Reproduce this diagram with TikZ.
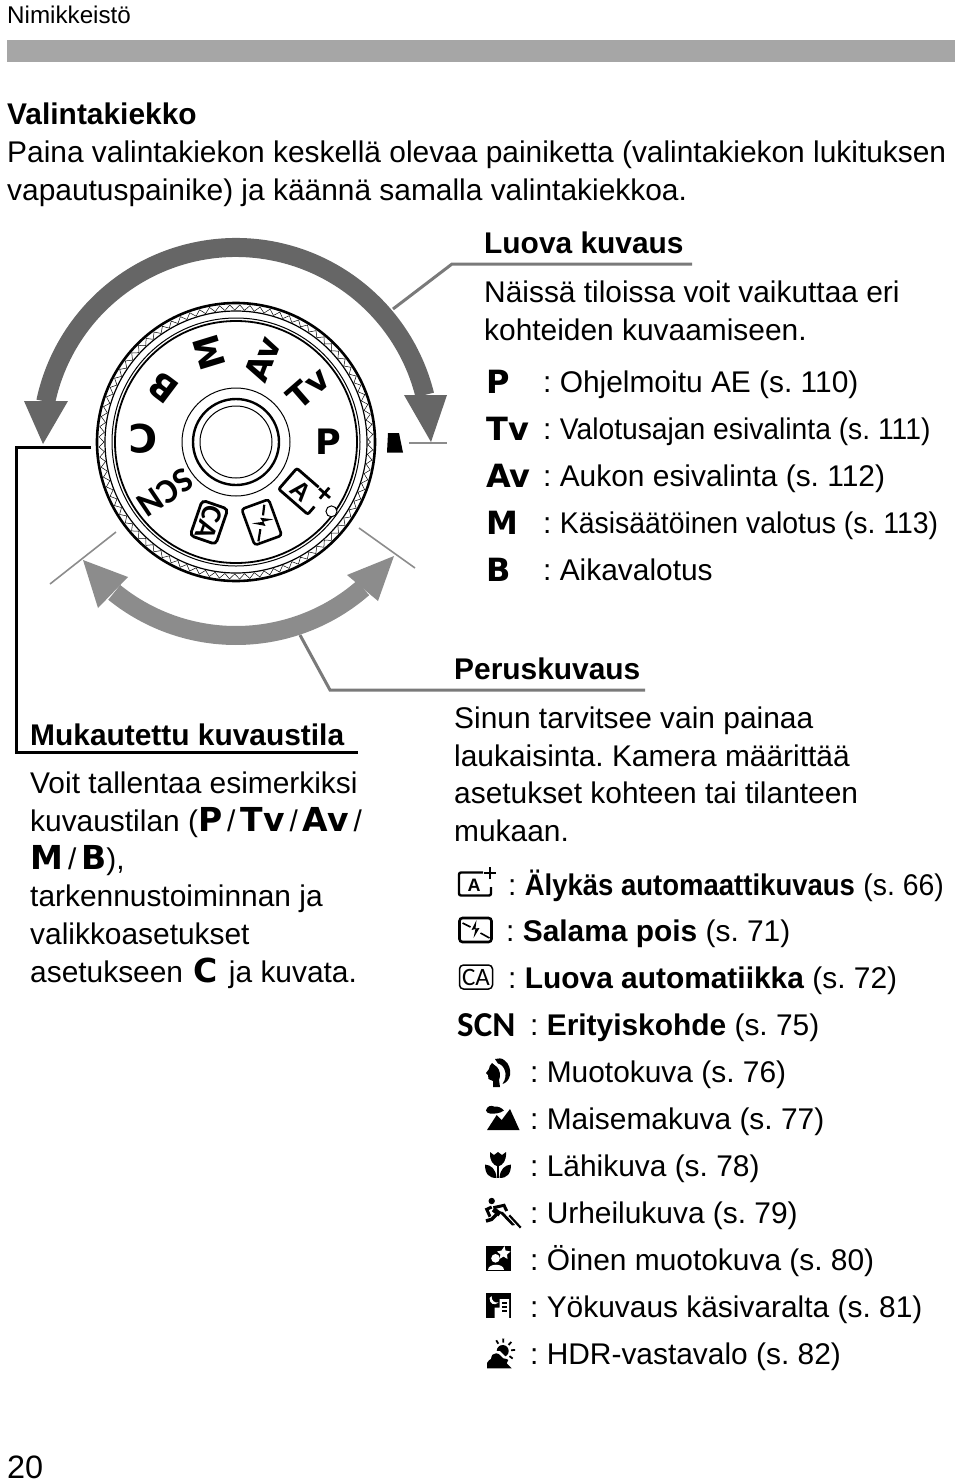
\documentclass[tikz,border=0pt]{standalone}
\usepackage{fontspec}
\setmainfont{Liberation Sans}
\newfontfamily\modefont{DejaVu Sans}
\newfontfamily\scnfont{Carlito}
\usetikzlibrary{decorations.pathmorphing}

\definecolor{bardark}{HTML}{666666}
\definecolor{barlight}{HTML}{8C8C8C}
\definecolor{leader}{HTML}{7A7A7A}
\definecolor{headbar}{HTML}{A6A6A6}

\newcommand{\msym}[1]{{\fontsize{33}{36}\selectfont\modefont\bfseries #1}}
\frenchspacing

\tikzset{
  body/.style={font=\fontsize{29.9}{36}\selectfont, anchor=base west, inner sep=0pt},
  head/.style={font=\fontsize{29.9}{36}\selectfont\bfseries, anchor=base west, inner sep=0pt},
  modesym/.style={font=\fontsize{32}{36}\selectfont\modefont\bfseries, anchor=base west, inner sep=0pt},
  dialsym/.style={font=\fontsize{35}{36}\selectfont\modefont\bfseries, inner sep=0pt},
  leadline/.style={leader, line width=3pt},
  tickline/.style={barlight, line width=1.6pt},
  iconline/.style={line width=2.4pt},
  caline/.style={line width=1.5pt},
  flashline/.style={line width=1.6pt},
  catext/.style={font=\fontsize{25}{25}\selectfont\scnfont},
  atext/.style={font=\fontsize{18}{18}\selectfont\bfseries},
  % scene icons, drawn around their middle or from their top left corner
  autoplus/.pic={
    \draw[iconline, rounded corners=2pt] (8,11.5) -- (-16,11.5) -- (-16,-11.5) -- (16,-11.5) -- (16,-3);
    \draw[iconline] (9,11) -- (21,11) (15,5) -- (15,17);
    \node[transform shape, inner sep=0pt, atext] (-a) at (-1,-1) {A};
  },
  flashoff/.pic={
    \draw[line width=2.6pt, rounded corners=3pt] (-16,-12) rectangle (16,12);
    \draw[flashline] (-13,7) -- (-5,3) (5,-3) -- (14,-8);
    \fill (1,10) -- (-4,0) -- (0,1) -- (-2,-8) -- (4,2) -- (0,1.5) -- cycle;
  },
  creative/.pic={
    \draw[caline, rounded corners=4pt] (-16.5,-12) rectangle (16.5,12);
    \node[transform shape, inner sep=0pt, catext] (-ca) at (0,0) {CA};
  },
  portrait/.pic={
    \fill (10,-1) .. controls (13,0) and (17,0) .. (19,-2) .. controls (24,-5) and (26,-12) .. (25,-17)
      .. controls (24,-22) and (21,-25) .. (17.5,-26) .. controls (21,-21) and (21,-16) .. (20,-13)
      .. controls (19,-9) and (16,-6) .. (13,-5.5) -- cycle;
    \fill (7,-5) .. controls (5,-7) and (4,-9) .. (4,-11) -- (1,-15) -- (3,-17) -- (3.5,-21) -- (8,-23) -- (8,-29)
      -- (15,-29) -- (14,-22) .. controls (16,-18) and (15,-12) .. (12,-9) -- cycle;
  },
  landscape/.pic={
    \fill (1,-25) -- (10.7,-10) -- (15.7,-15) -- (24,-4) -- (33.5,-25) -- cycle;
    \fill (0,-5.5) .. controls (1,-1) and (5,0) .. (8,-1.5) .. controls (12,-1) and (16,-3) .. (18,-5.5)
      .. controls (14,-8.5) and (8,-9) .. (4,-8.5) .. controls (2,-8.5) and (0.5,-7) .. (0,-5.5) -- cycle;
  },
  macroflower/.pic={
    \fill (5,0) -- (9,-3) -- (13,0) -- (17,-3) -- (21,0) .. controls (21.5,-9) and (18,-13) .. (13,-14.5)
      .. controls (8,-13) and (4.5,-9) .. (5,0) -- cycle;
    \fill (0,-12.5) .. controls (6,-13) and (11,-17) .. (11.5,-26) .. controls (4,-26) and (0,-22) .. (0,-12.5) -- cycle;
    \fill (26,-12.5) .. controls (20,-13) and (15,-17) .. (14.5,-26) .. controls (22,-26) and (26,-22) .. (26,-12.5) -- cycle;
    \draw[line width=1.4pt] (13,-14) -- (13,-26);
  },
  sports/.pic={
    \fill (5.7,-3) circle (3.2);
    \draw[line width=5pt] (7.3,-11.3) -- (14,-16.3);
    \draw[line width=3pt] (7.3,-9.7) -- (18,-7.3) -- (20.7,-13);
    \draw[line width=3pt] (5.7,-9) -- (0.7,-11.3) -- (4,-18.7);
    \draw[line width=3.5pt] (10.7,-16.3) -- (5.7,-21.3) -- (0,-23);
    \fill (12,-13) -- (17,-14) -- (29,-27) -- (26,-27.5) -- cycle;
    \draw[line width=2.2pt] (23.3,-17.3) -- (34.7,-29.7);
  },
  nightportrait/.pic={
    \fill (0,0) rectangle (25,-25);
    \fill[white] (10,-12.3) circle (4.3);
    \fill[white] (2,-24) .. controls (2,-17) and (18,-17) .. (18,-24) -- cycle;
    \fill[white] (19,0) -- (20,-4.5) -- (25,-5.5) -- (21.5,-8.5) -- (22,-13) -- (18,-10.5) -- (14,-13) -- (15,-8.5) -- (11.5,-5.5) -- (16,-4.5) -- cycle;
  },
  nightsnap/.pic={
    \fill (0,0) rectangle (25,-25);
    \fill[white] (4,-5) .. controls (4,-11) and (9,-13) .. (13,-9.5) .. controls (9,-10) and (6,-8) .. (6,-3) -- cycle;
    \fill[white] (9,-25) -- (9,-14.5) -- (14,-14.5) -- (14,-6) -- (23.5,-6) -- (23.5,-25) -- cycle;
    \draw[line width=1.3pt] (16.5,-10) -- (21.5,-10) (16.5,-14) -- (21.5,-14) (16.5,-18) -- (21.5,-18);
  },
  hdrlight/.pic={
    \fill (16.7,-12) circle (6);
    \foreach \a in {121,87,46,5,-37}
      \draw[line width=1.8pt] (16.7,-12) ++(\a:8.5) -- ++(\a:4);
    \fill[white] (2,-21) -- (9,-12) -- (14,-12) -- (20,-18) -- (24,-21) -- (22,-29) -- cycle;
    \fill (1,-29.3) -- (1,-24) .. controls (2,-21) and (4,-21) .. (5,-20) .. controls (5.5,-16) and (7,-14.3) .. (10,-14.3)
      .. controls (14,-14.3) and (15,-18) .. (17.3,-19.3) .. controls (20,-20) and (22,-20) .. (22.3,-21) -- (20.7,-24.3) -- (25.7,-29.3) -- cycle;
  }
}

\begin{document}
\begin{tikzpicture}[x=1pt,y=1pt]
\useasboundingbox (0,0) rectangle (960,-1480);

% Page head
\node[anchor=base west, inner sep=0pt, font=\fontsize{24.2}{26}\selectfont] (pagetitle) at (7,-24) {Nimikkeistö};
\fill[headbar] (7,-40) rectangle (955,-62);

\node[head] (dialtitle) at (7,-124) {Valintakiekko};
\node[body] (dialtext-1) at (7,-162) {Paina valintakiekon keskellä olevaa painiketta (valintakiekon lukituksen};
\node[body] (dialtext-2) at (7,-200) {vapautuspainike) ja käännä samalla valintakiekkoa.};

% Leaders
\coordinate (luova-a) at (393,-309);
\coordinate (luova-b) at (452,-264);
\coordinate (luova-c) at (692,-264);
\draw[leadline] (luova-a) -- (luova-b) -- (luova-c);
\coordinate (perus-a) at (300,-635);
\coordinate (perus-b) at (330,-690);
\coordinate (perus-c) at (645,-690);
\draw[leadline] (perus-a) -- (perus-b) -- (perus-c);
\coordinate (custom-a) at (91,-447);
\coordinate (custom-b) at (16,-447);
\coordinate (custom-c) at (16,-752);
\coordinate (custom-d) at (358,-752);
\draw[line width=3pt] (custom-a) -- (custom-b) -- (custom-c) -- (custom-d);

% Thin end marks
\coordinate (tick-a) at (409,-443);
\coordinate (tick-b) at (447,-443);
\draw[tickline] (tick-a) -- (tick-b);
\coordinate (tick-c) at (116,-532);
\coordinate (tick-d) at (50,-584);
\draw[tickline] (tick-c) -- (tick-d);
\coordinate (tick-e) at (359,-528);
\coordinate (tick-f) at (415,-568);
\draw[tickline] (tick-e) -- (tick-f);

% Big arrows
\begin{scope}[shift={(236,-442)}]
\fill[bardark] (14:204) arc[start angle=14,end angle=168,radius=204] -- (168:185) arc[start angle=168,end angle=14,radius=185] -- cycle;
\fill[barlight] (-49:203) arc[start angle=-49,end angle=-129,radius=203] -- (-129:184) arc[start angle=-129,end angle=-49,radius=184] -- cycle;
\end{scope}
\fill[bardark] (404,-395) -- (447,-395) -- (431,-442) -- cycle;
\fill[bardark] (24,-401) -- (68,-401) -- (43,-444) -- cycle;
\fill[barlight] (347,-575) -- (378,-601) -- (394,-556) -- cycle;
\fill[barlight] (128,-577) -- (98,-608) -- (83,-560) -- cycle;

% Dial
\fill (388,-433) -- (399,-433) -- (403,-452.5) -- (387,-452.5) -- cycle;
\begin{scope}[shift={(236,-442)}, iconline/.style={line width=2.8pt}, caline/.style={line width=2.8pt},
    flashline/.style={line width=2.2pt},
    catext/.style={font=\fontsize{26}{26}\selectfont\scnfont\bfseries},
    atext/.style={font=\fontsize{21}{21}\selectfont\bfseries}]
\fill[white] (0,0) circle (139);
\draw[line width=2.6pt] (0,0) circle (139);
\draw[line width=0.5pt, decorate, decoration={zigzag, segment length=10pt, amplitude=2.6pt}] (0,0) circle (134.5);
\draw[line width=1.2pt] (0,0) circle (131);
\draw[line width=1pt] (0,0) circle (124);
\draw[line width=1.8pt] (0,0) circle (121);
\draw[line width=1pt] (0,0) circle (54);
\draw[line width=2.4pt] (0,0) circle (43);
\draw[line width=1pt] (0,0) circle (36);
\draw[fill=white, line width=1pt] (-36:118) circle (5.5);

\foreach \a/\r/\rot/\txt in {0/92/0/P, 107/93/107/M, 143/91/143/B}
  \node[dialsym, rotate=\rot] (dial-\txt) at (\a:\r) {\txt};
\foreach \a/\r/\rot/\txt in {37/90/41/Tv, 72/87/69/Av}
  \node[dialsym, rotate=\rot, font=\fontsize{33}{36}\selectfont\modefont\bfseries] (dial-\txt) at (\a:\r) {\txt};
\node[dialsym, rotate=180, font=\fontsize{39}{40}\selectfont\modefont\bfseries] (dial-C) at (178:93) {C};
\node[rotate=214, inner sep=0pt, font=\fontsize{35}{36}\selectfont\scnfont\bfseries] (dial-scn) at (215.6:87) {SCN};
\pic[rotate=251, scale=1.13, transform shape] (dial-ca) at (-27,-80.3) {creative};
\pic[rotate=-70, scale=1.2, transform shape] (dial-off) at (25.7,-80.3) {flashoff};
\pic[rotate=-41, scale=1.2, transform shape] (dial-plus) at (66.3,-49.3) {autoplus};
\end{scope}

% Creative zone
\node[head] (luovatitle) at (484,-253) {Luova kuvaus};
\node[body] (luovatext-1) at (484,-302) {Näissä tiloissa voit vaikuttaa eri};
\node[body] (luovatext-2) at (484,-340) {kohteiden kuvaamiseen.};
\foreach \i/\y/\sym/\txt in {1/393/P/Ohjelmoitu AE (s. 110),
    2/440/Tv/\scalebox{0.945}[1]{Valotusajan esivalinta (s. 111)},
    3/487/Av/Aukon esivalinta (s. 112),
    4/534/M/\scalebox{0.95}[1]{Käsisäätöinen valotus (s. 113)},
    5/581/B/Aikavalotus} {
  \node[modesym] (modesym-\i) at (486,-\y) {\sym};
  \node[body] (modetext-\i) at (543,-\y+1) {: \txt};
}

% Custom mode
\node[head] (customtitle) at (30,-745) {Mukautettu kuvaustila};
\node[body] (customtext-1) at (30,-793) {Voit tallentaa esimerkiksi};
\node[body] (customtext-2) at (30,-831) {kuvaustilan (\msym{P}\,/\,\msym{Tv}\,/\,\msym{Av}\,/};
\node[body] (customtext-3) at (30,-869) {\msym{M}\,/\,\msym{B}),};
\node[body] (customtext-4) at (30,-906) {tarkennustoiminnan ja};
\node[body] (customtext-5) at (30,-944) {valikkoasetukset};
\node[body] (customtext-6) at (30,-982) {asetukseen\hspace{2.5pt} \msym{C}\hspace{2.5pt} ja kuvata.};

% Basic zone
\node[head] (perustitle) at (454,-679) {Peruskuvaus};
\node[body] (perustext-1) at (454,-728) {Sinun tarvitsee vain painaa};
\node[body] (perustext-2) at (454,-766) {laukaisinta. Kamera määrittää};
\node[body] (perustext-3) at (454,-803) {asetukset kohteen tai tilanteen};
\node[body] (perustext-4) at (454,-841) {mukaan.};

\foreach \i/\x/\y/\txt in {1/508/895/\textbf{\scalebox{0.92}[1]{Älykäs automaattikuvaus}} \scalebox{0.95}[1]{(s. 66)},
    2/506/941/\textbf{Salama pois} (s. 71),
    3/508/988/\textbf{Luova automatiikka} (s. 72),
    4/530/1035/\textbf{Erityiskohde} (s. 75),
    5/530/1082/Muotokuva (s. 76),
    6/530/1129/Maisemakuva (s. 77),
    7/530/1176/Lähikuva (s. 78),
    8/530/1223/Urheilukuva (s. 79),
    9/530/1270/Öinen muotokuva (s. 80),
    10/530/1317/Yökuvaus käsivaralta (s. 81),
    11/530/1364/HDR-vastavalo (s. 82)}
  \node[body] (scenetext-\i) at (\x,-\y) {: \txt};

\pic (icon-plus) at (475,-884) {autoplus};
\pic (icon-off) at (475.5,-930) {flashoff};
\pic (icon-ca) at (476,-977) {creative};
\node[anchor=base west, inner sep=0pt, font=\fontsize{35}{36}\selectfont\scnfont\bfseries] (icon-scn) at (457,-1036) {SCN};
\pic (icon-portrait) at (485,-1058) {portrait};
\pic (icon-land) at (486,-1105) {landscape};
\pic (icon-macro) at (485,-1152) {macroflower};
\pic (icon-sports) at (486,-1198) {sports};
\pic (icon-night) at (485.5,-1246) {nightportrait};
\pic (icon-snap) at (485.5,-1293) {nightsnap};
\pic (icon-hdr) at (486,-1339) {hdrlight};

\node[anchor=base west, inner sep=0pt, font=\fontsize{32.4}{36}\selectfont] (pagenum) at (7,-1478) {20};
\end{tikzpicture}
\end{document}
